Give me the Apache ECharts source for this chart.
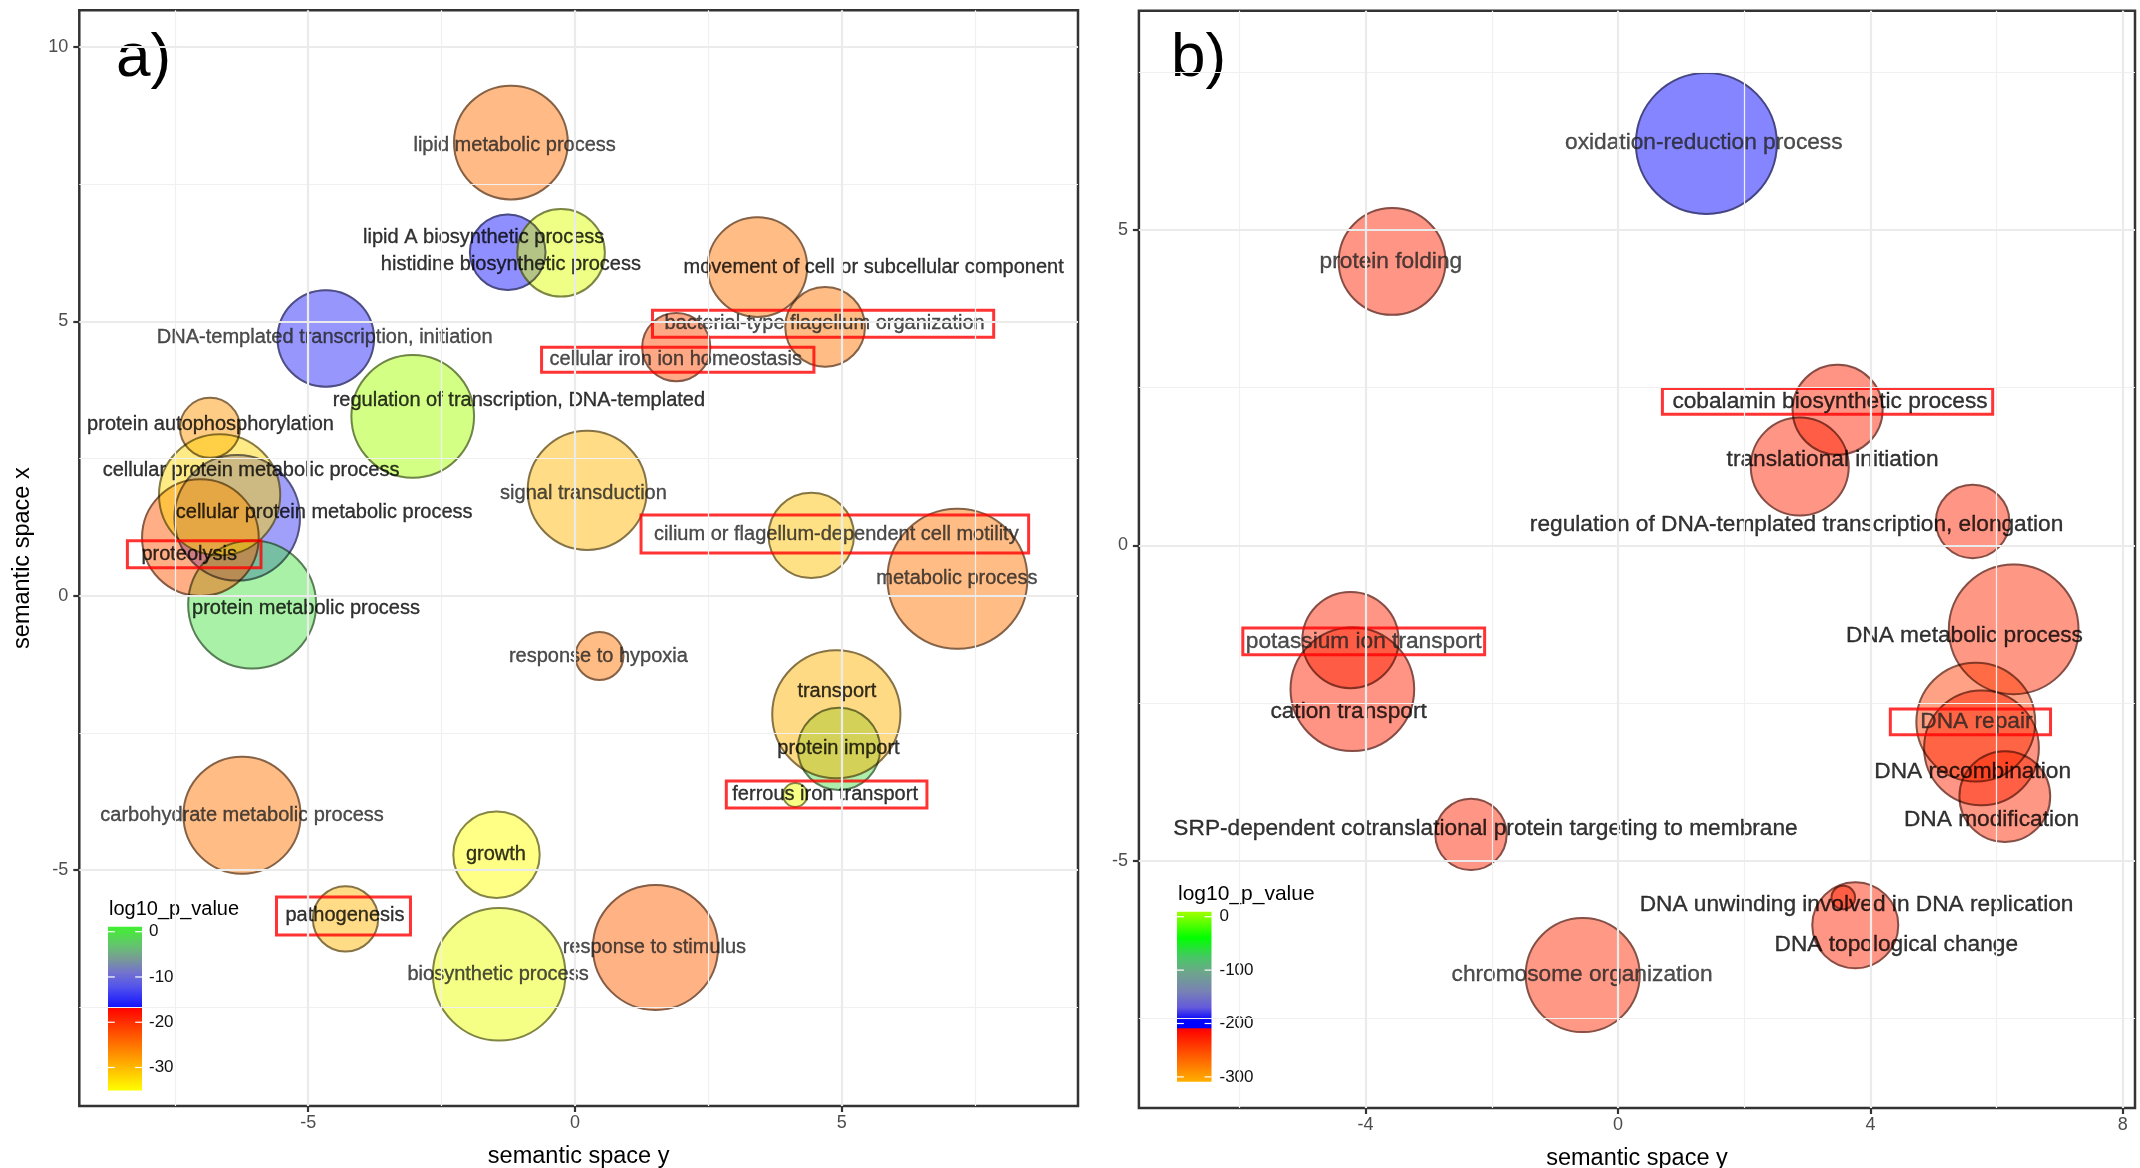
<!DOCTYPE html>
<html>
<head>
<meta charset="utf-8">
<title>semantic space</title>
<script src="https://cdn.jsdelivr.net/npm/echarts@6/dist/echarts.min.js"></script>
<style>
  html, body { margin: 0; padding: 0; background: #fff; }
  #chart { width: 2140px; height: 1168px; }
</style>
</head>
<body>
<div id="chart"></div>
<script>
// ---- panel a) ----  (drawing order follows the original plot)
const termsA = [
  'lipid metabolic process', 'lipid A biosynthetic process', 'histidine biosynthetic process',
  'movement of cell or subcellular component', 'DNA-templated transcription, initiation',
  'bacterial-type flagellum organization', 'cellular iron ion homeostasis',
  'regulation of transcription, DNA-templated', 'protein autophosphorylation',
  'cellular protein metabolic process', 'protein metabolic process', 'proteolysis',
  'cellular protein metabolic process', 'signal transduction',
  'cilium or flagellum-dependent cell motility', 'metabolic process', 'response to hypoxia',
  'protein import', 'transport', 'ferrous iron transport', 'carbohydrate metabolic process',
  'growth', 'pathogenesis', 'response to stimulus', 'biosynthetic process'
];
const xA = [-1.20, -1.26, -0.26, 3.42, -4.67, 4.69, 1.90, -3.04, -6.84, -6.33, -6.05, -7.02, -6.66, 0.23, 4.43, 7.17, 0.46, 4.95, 4.90, 4.13, -6.24, -1.47, -4.30, 1.51, -1.42];
const yA = [8.26, 6.26, 6.25, 5.99, 4.69, 4.90, 4.53, 3.27, 3.06, 1.42, -0.16, 1.06, 1.84, 1.92, 1.10, 0.31, -1.10, -2.79, -2.16, -3.63, -4.00, -4.72, -5.89, -6.41, -6.90];
const sizeA = [4.74, 3.15, 3.65, 4.15, 4.02, 3.32, 2.84, 5.11, 2.50, 5.23, 5.33, 4.86, 5.05, 4.96, 3.56, 5.83, 2.00, 3.43, 5.34, 1.00, 4.88, 3.60, 2.72, 5.21, 5.52];
const pvalA = [-24.6, -16.5, -38.9, -25, -15.5, -25, -22, -45.7, -27.4, -14, -0.2, -22.9, -32.1, -29.8, -30.6, -25, -25, -0.8, -29.5, -37, -25, -35, -29.8, -23.7, -37.2];
const labelXA = [-1.13, -1.71, -1.20, 5.60, -4.69, 4.68, 1.89, -1.05, -6.83, -4.70, -5.04, -7.23, -6.07, 0.16, 4.90, 7.16, 0.44, 4.94, 4.91, 4.69, -6.24, -1.48, -4.31, 1.49, -1.44];
const labelYA = [8.20, 6.53, 6.04, 5.98, 4.70, 4.91, 4.31, 3.56, 3.13, 1.52, -0.23, 0.80, 2.29, 1.87, 1.07, 0.31, -1.10, -2.79, -1.75, -3.65, -4.00, -4.71, -5.89, -6.41, -6.90];
const ticksAX = [-5, 0, 5];
const ticksAY = [-5, 0, 5, 10];
const minorAX = [-7.5, -2.5, 2.5, 7.5];
const minorAY = [-7.5, -2.5, 2.5, 7.5];
const legendTicksA = [0, -10, -20, -30];

// ---- panel b) ----
const termsB = [
  'oxidation-reduction process', 'protein folding', 'cobalamin biosynthetic process',
  'translational initiation', 'regulation of DNA-templated transcription, elongation',
  'DNA metabolic process', 'potassium ion transport', 'cation transport', 'DNA repair',
  'DNA recombination', 'DNA modification',
  'SRP-dependent cotranslational protein targeting to membrane',
  'DNA unwinding involved in DNA replication', 'DNA topological change', 'chromosome organization'
];
const xB = [1.40, -3.58, 3.48, 2.88, 5.62, 6.27, -4.24, -4.21, 5.67, 5.76, 6.13, -2.33, 3.57, 3.76, -0.56];
const yB = [6.37, 4.50, 2.15, 1.25, 0.38, -1.33, -1.50, -2.28, -2.80, -3.21, -3.98, -4.58, -5.58, -6.02, -6.81];
const sizeB = [5.87, 4.45, 3.75, 4.08, 3.06, 5.40, 4.01, 5.15, 4.95, 4.78, 3.78, 2.97, 0.98, 3.58, 4.75];
const pvalB = [-200, -228, -227, -228, -230, -231, -229, -227, -243, -230, -231, -229, -230, -229, -233];
const labelXB = [1.36, -3.60, 3.36, 3.40, 2.83, 5.49, -4.03, -4.27, 5.68, 5.62, 5.92, -2.10, 3.78, 4.41, -0.57];
const labelYB = [6.38, 4.50, 2.29, 1.35, 0.32, -1.43, -1.52, -2.63, -2.79, -3.59, -4.35, -4.49, -5.69, -6.33, -6.81];
const ticksBX = [-4, 0, 4, 8];
const ticksBY = [-5, 0, 5];
const minorBX = [-6, -2, 2, 6];
const minorBY = [-7.5, -2.5, 2.5, 7.5];
const legendTicksB = [0, -100, -200, -300];

// colour scales (value, rgb), highest value first
const stopsA = [[1.1, [64, 240, 48]], [-3, [100, 196, 110]], [-6, [120, 155, 150]], [-9, [115, 115, 205]],
  [-12, [85, 85, 235]], [-16.6, [20, 20, 255]], [-16.65, [255, 0, 0]], [-35.1, [255, 255, 0]], [-46, [160, 255, 0]]];
const stopsB = [[9.2, [160, 255, 0]], [-40, [0, 255, 0]], [-75, [70, 200, 100]], [-105, [110, 165, 140]],
  [-140, [120, 130, 180]], [-170, [100, 90, 220]], [-195, [0, 0, 255]], [-209, [0, 0, 255]],
  [-209.5, [255, 0, 0]], [-309, [255, 176, 0]]];

// label styling
const darkLabels = new Set([
  'lipid A biosynthetic process', 'histidine biosynthetic process', 'movement of cell or subcellular component',
  'regulation of transcription, DNA-templated', 'protein autophosphorylation', 'cellular protein metabolic process',
  'proteolysis', 'protein metabolic process', 'transport', 'protein import', 'ferrous iron transport', 'growth',
  'pathogenesis', 'cobalamin biosynthetic process', 'translational initiation',
  'regulation of DNA-templated transcription, elongation', 'DNA metabolic process', 'cation transport',
  'DNA recombination', 'DNA modification', 'SRP-dependent cotranslational protein targeting to membrane',
  'DNA unwinding involved in DNA replication', 'DNA topological change'
]);
// red highlight boxes: padding [top, right, bottom, left]
const boxes = {
  'bacterial-type flagellum organization': [6, 9, 1, 12],
  'cellular iron ion homeostasis': [2, 12, 3, 8],
  'cilium or flagellum-dependent cell motility': [12, 10, 6, 13],
  'proteolysis': [1, 24, 6, 14],
  'ferrous iron transport': [5, 9, 2, 6],
  'pathogenesis': [12, 6, 6, 9],
  'cobalamin biosynthetic process': [1, 5, 2, 10],
  'potassium ion transport': [2, 3, 2, 3],
  'DNA repair': [1, 18, 2, 30]
};

const FONT = '"Liberation Sans", Arial, Helvetica, sans-serif';
const SIZE_PX = 24;
const OUTLINE = 2;

function colorAt(stops, v) {
  if (v >= stops[0][0]) return stops[0][1];
  for (let i = 1; i < stops.length; i++) {
    const v1 = stops[i - 1][0], c1 = stops[i - 1][1], v2 = stops[i][0], c2 = stops[i][1];
    if (v >= v2) {
      const t = (v1 - v) / (v1 - v2);
      return c1.map((c, k) => Math.round(c + (c2[k] - c) * t));
    }
  }
  return stops[stops.length - 1][1];
}
function rgba(c, a) { return 'rgba(' + c[0] + ',' + c[1] + ',' + c[2] + ',' + a + ')'; }
function ramp(stops, min, max, n) {
  const out = [];
  for (let i = 0; i < n; i++) out.push(rgba(colorAt(stops, min + (max - min) * i / (n - 1)), 0.6));
  return out;
}

function gridLineSeries(idx, majorX, minorX, majorY, minorY) {
  const major = { color: '#ebebeb', width: 2.2, type: 'solid' };
  const minor = { color: '#f0f0f0', width: 1.2, type: 'solid' };
  const data = []
    .concat(minorX.map(v => ({ xAxis: v, lineStyle: minor })))
    .concat(minorY.map(v => ({ yAxis: v, lineStyle: minor })))
    .concat(majorX.map(v => ({ xAxis: v, lineStyle: major })))
    .concat(majorY.map(v => ({ yAxis: v, lineStyle: major })));
  return {
    type: 'scatter', xAxisIndex: idx, yAxisIndex: idx, data: [], silent: true, z: 1,
    markLine: { silent: true, symbol: ['none', 'none'], animation: false, label: { show: false }, data: data }
  };
}

function bubbleSeries(idx, terms, xs, ys, sizes, pvals) {
  const data = terms.map((t, i) => ({ name: t, value: [xs[i], ys[i], sizes[i], pvals[i]] }));
  return [
    // fill (slightly larger so the outline sits on top of it)
    { type: 'scatter', xAxisIndex: idx, yAxisIndex: idx, z: 2, silent: true, data: data,
      symbolSize: v => v[2] * SIZE_PX + OUTLINE, itemStyle: { borderWidth: 0 } },
    { type: 'scatter', xAxisIndex: idx, yAxisIndex: idx, z: 3, silent: true, data: data,
      symbolSize: v => v[2] * SIZE_PX,
      itemStyle: { color: 'rgba(0,0,0,0)', borderColor: 'rgba(0,0,0,0.6)', borderWidth: OUTLINE } }
  ];
}

function labelSeries(idx, terms, lx, ly, fontSize) {
  const data = terms.map((t, i) => {
    const c = darkLabels.has(t) ? '#000000' : '#222222';
    const lab = { color: c, textBorderColor: c, textBorderWidth: 0.35 };
    const pad = boxes[t];
    if (pad) {
      lab.borderColor = '#ff0000';
      lab.borderWidth = 3;
      lab.padding = pad;
      lab.offset = [(pad[1] - pad[3]) / 2, (pad[2] - pad[0]) / 2];
    }
    return { name: t, value: [lx[i], ly[i]], label: lab };
  });
  return {
    type: 'scatter', xAxisIndex: idx, yAxisIndex: idx, z: 4, silent: true, data: data,
    symbolSize: 1, itemStyle: { color: 'rgba(0,0,0,0)' },
    label: { show: true, position: 'inside', formatter: '{b}', fontFamily: FONT,
      fontSize: fontSize, lineHeight: fontSize, textShadowBlur: 0 }
  };
}

function colorbar(cfg) {
  const yOf = v => cfg.y0 - v * cfg.ppu;
  const top = yOf(cfg.top), bottom = yOf(cfg.bottom);
  const span = cfg.top - cfg.bottom;
  const colorStops = [{ offset: 0, color: rgba(colorAt(cfg.stops, cfg.top), 1) }];
  cfg.stops.forEach(s => {
    if (s[0] < cfg.top && s[0] > cfg.bottom) colorStops.push({ offset: (cfg.top - s[0]) / span, color: rgba(s[1], 1) });
  });
  colorStops.push({ offset: 1, color: rgba(colorAt(cfg.stops, cfg.bottom), 1) });
  const els = [
    { type: 'text', x: cfg.x + 1, y: cfg.titleY,
      style: { text: 'log10_p_value', font: cfg.titleSize + 'px ' + FONT, fill: '#000',
        textAlign: 'left', textVerticalAlign: 'middle', align: 'left', verticalAlign: 'middle' } },
    { type: 'rect', shape: { x: cfg.x, y: top, width: cfg.width, height: bottom - top },
      style: { fill: new echarts.graphic.LinearGradient(0, 0, 0, 1, colorStops) } }
  ];
  const tl = cfg.width * 0.2;
  cfg.ticks.forEach(v => {
    const y = yOf(v);
    els.push({ type: 'line', shape: { x1: cfg.x, y1: y, x2: cfg.x + tl, y2: y }, style: { stroke: '#fff', lineWidth: 1.2 } });
    els.push({ type: 'line', shape: { x1: cfg.x + cfg.width - tl, y1: y, x2: cfg.x + cfg.width, y2: y }, style: { stroke: '#fff', lineWidth: 1.2 } });
    els.push({ type: 'text', x: cfg.labelX, y: y,
      style: { text: String(v), font: '17px ' + FONT, fill: '#111',
        textAlign: 'left', textVerticalAlign: 'middle', align: 'left', verticalAlign: 'middle' } });
  });
  return els;
}

function panelAxes(idx, min, max, ticks, isX, gap) {
  const ax = {
    type: 'value', gridIndex: idx, min: min, max: max,
    splitLine: { show: false },
    axisLine: { show: false, onZero: false },
    axisTick: { show: true, customValues: ticks, length: 6, lineStyle: { color: '#333', width: 2.2 } },
    axisLabel: { customValues: ticks, color: '#4d4d4d', fontSize: 18, fontFamily: FONT, margin: isX ? 8 : 11 }
  };
  if (gap) {
    ax.name = isX ? 'semantic space y' : 'semantic space x';
    ax.nameLocation = 'middle';
    ax.nameGap = gap;
    ax.nameTextStyle = { fontSize: 23.5, color: '#000', fontFamily: FONT };
  }
  return ax;
}

const chart = echarts.init(document.getElementById('chart'), null, { renderer: 'canvas' });

const option = {
  animation: false,
  backgroundColor: '#fff',
  grid: [
    { left: 79.3, top: 10.3, width: 998.7, height: 1095.7, show: true, borderColor: '#333', borderWidth: 2.5,
      backgroundColor: 'rgba(0,0,0,0)', containLabel: false, outerBoundsMode: 'none' },
    { left: 1138.9, top: 10.7, width: 996.1, height: 1097.3, show: true, borderColor: '#333', borderWidth: 2.5,
      backgroundColor: 'rgba(0,0,0,0)', containLabel: false, outerBoundsMode: 'none' }
  ],
  xAxis: [
    panelAxes(0, -9.29, 9.43, ticksAX, true, 39),
    panelAxes(1, -7.593, 8.193, ticksBX, true, 39)
  ],
  yAxis: [
    panelAxes(0, -9.30, 10.67, ticksAY, false, 45),
    panelAxes(1, -8.916, 8.474, ticksBY, false, 0)
  ],
  visualMap: [
    { type: 'continuous', show: false, seriesIndex: 2, dimension: 3, min: -46, max: 1.1,
      inRange: { color: ramp(stopsA, -46, 1.1, 600) } },
    { type: 'continuous', show: false, seriesIndex: 5, dimension: 3, min: -309, max: 9.2,
      inRange: { color: ramp(stopsB, -309, 9.2, 600) } }
  ],
  series: [
    gridLineSeries(0, ticksAX, minorAX, ticksAY, minorAY),
    gridLineSeries(1, ticksBX, minorBX, ticksBY, minorBY)
  ]
    .concat(bubbleSeries(0, termsA, xA, yA, sizeA, pvalA))
    .concat([labelSeries(0, termsA, labelXA, labelYA, 20)])
    .concat(bubbleSeries(1, termsB, xB, yB, sizeB, pvalB))
    .concat([labelSeries(1, termsB, labelXB, labelYB, 22.7)]),
  graphic: []
    .concat([
      { type: 'text', x: 116, y: 58.5, style: { text: 'a)', font: '62px ' + FONT, fill: '#000',
        textAlign: 'left', textVerticalAlign: 'middle', align: 'left', verticalAlign: 'middle' } },
      { type: 'text', x: 1171, y: 58.5, style: { text: 'b)', font: '62px ' + FONT, fill: '#000',
        textAlign: 'left', textVerticalAlign: 'middle', align: 'left', verticalAlign: 'middle' } }
    ])
    .concat(colorbar({ x: 108, width: 34, y0: 931.7, ppu: 4.527, top: 1.1, bottom: -35.1, stops: stopsA,
      ticks: legendTicksA, labelX: 149, titleY: 909.7, titleSize: 20 }))
    .concat(colorbar({ x: 1177, width: 34.5, y0: 916.7, ppu: 0.534, top: 9.2, bottom: -309, stops: stopsB,
      ticks: legendTicksB, labelX: 1219.5, titleY: 894.3, titleSize: 21 }))
};

chart.setOption(option);
</script>
</body>
</html>
